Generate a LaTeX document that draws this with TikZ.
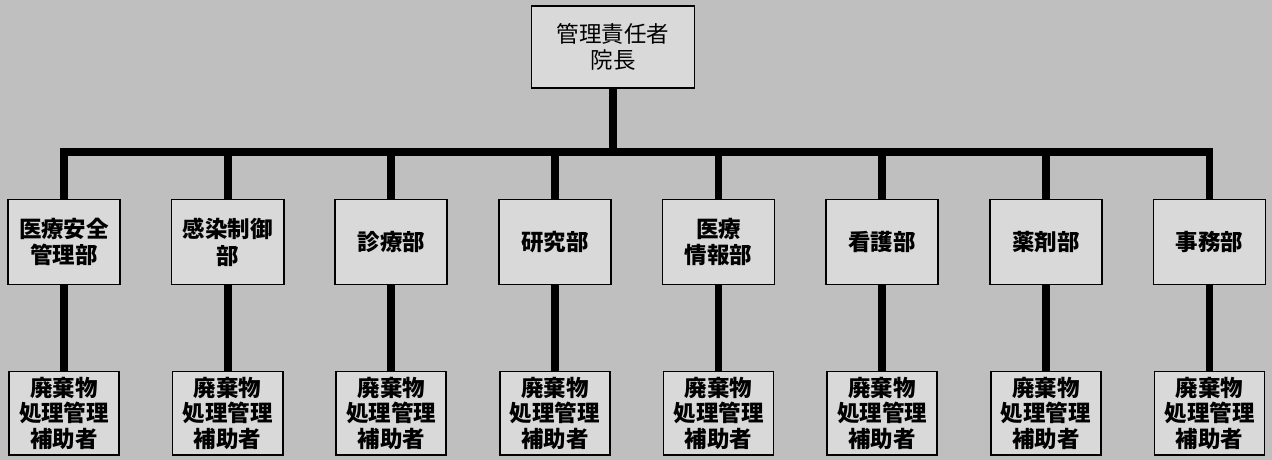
\documentclass[tikz,border=0pt]{standalone}
\usepackage{fontspec}
\setmainfont{Noto Sans CJK JP}
\usetikzlibrary{positioning}

\begin{document}
\begin{tikzpicture}[x=0.025cm, y=-0.025cm, node distance = 4.09cm, thick,
    box/.style={rectangle, draw=black, line width=1.2pt, fill=black!15, align=center, inner sep=0pt},
    dept/.style={box, minimum width=2.8cm, minimum height=2.13cm, font=\fontsize{16}{19}\selectfont\bfseries},
    helper/.style={box, minimum width=2.75cm, minimum height=2.08cm, font=\fontsize{16}{18}\selectfont\bfseries},
    link/.style={line width=5.5pt}]
  \fill[black!25] (0,0) rectangle (1272,460);
  \useasboundingbox (0,0) rectangle (1272,460);

  \node[box, minimum width=4.08cm, minimum height=2.05cm, font=\fontsize{16}{19}\selectfont] (head) at (613,47) {管理責任者\\院長};
  \coordinate (bar) at (0,152);

  \node[dept] (d1) at (64,242) {医療安全\\管理部};
  \node[dept, right of=d1] (d2) {感染制御\\部};
  \node[dept, right of=d2] (d3) {診療部};
  \node[dept, right of=d3] (d4) {研究部};
  \node[dept, right of=d4] (d5) {医療\\情報部};
  \node[dept, right of=d5] (d6) {看護部};
  \node[dept, right of=d6] (d7) {薬剤部};
  \node[dept, right of=d7] (d8) {事務部};

  \node[helper, below of=d1, node distance = 4.28cm] (h1) {廃棄物\\処理管理\\補助者};
  \node[helper, below of=d2, node distance = 4.28cm] (h2) {廃棄物\\処理管理\\補助者};
  \node[helper, below of=d3, node distance = 4.28cm] (h3) {廃棄物\\処理管理\\補助者};
  \node[helper, below of=d4, node distance = 4.28cm] (h4) {廃棄物\\処理管理\\補助者};
  \node[helper, below of=d5, node distance = 4.28cm] (h5) {廃棄物\\処理管理\\補助者};
  \node[helper, below of=d6, node distance = 4.28cm] (h6) {廃棄物\\処理管理\\補助者};
  \node[helper, below of=d7, node distance = 4.28cm] (h7) {廃棄物\\処理管理\\補助者};
  \node[helper, below of=d8, node distance = 4.28cm] (h8) {廃棄物\\処理管理\\補助者};

  % tree
  \draw[link] (head.south) -- (head.south |- bar);
  \draw[link] (d1.north) -- (d1.north |- bar) -- (d8.north |- bar) -- (d8.north);
  \draw[link] (d2.north) -- (d2.north |- bar);
  \draw[link] (d3.north) -- (d3.north |- bar);
  \draw[link] (d4.north) -- (d4.north |- bar);
  \draw[link] (d5.north) -- (d5.north |- bar);
  \draw[link] (d6.north) -- (d6.north |- bar);
  \draw[link] (d7.north) -- (d7.north |- bar);

  \draw[link] (d1) -- (h1);
  \draw[link] (d2) -- (h2);
  \draw[link] (d3) -- (h3);
  \draw[link] (d4) -- (h4);
  \draw[link] (d5) -- (h5);
  \draw[link] (d6) -- (h6);
  \draw[link] (d7) -- (h7);
  \draw[link] (d8) -- (h8);
\end{tikzpicture}
\end{document}
